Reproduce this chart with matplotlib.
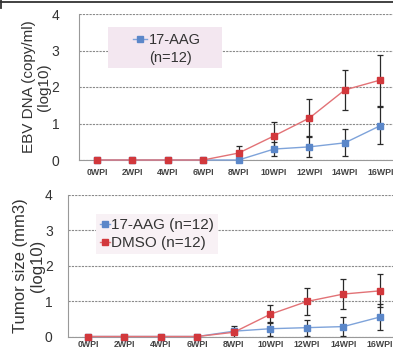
import numpy as np
import matplotlib
matplotlib.use("Agg")
import matplotlib.pyplot as plt
from matplotlib.lines import Line2D
from matplotlib.patches import Rectangle

plt.rcParams['font.family'] = ['Liberation Sans', 'DejaVu Sans']

# ---- data ----
weeks = ['0WPI', '2WPI', '4WPI', '6WPI', '8WPI', '10WPI', '12WPI', '14WPI', '16WPI']

ebv_aag = [0, 0, 0, 0, 0.0, 0.30, 0.36, 0.47, 0.94]
ebv_aag_err = [0, 0, 0, 0, 0.0, 0.20, 0.29, 0.37, 0.50]
ebv_dmso = [0, 0, 0, 0, 0.19, 0.66, 1.15, 1.92, 2.19]
ebv_dmso_err = [0, 0, 0, 0, 0.20, 0.37, 0.52, 0.54, 0.70]

tumor_aag = [0, 0, 0, 0, 0.15, 0.22, 0.25, 0.28, 0.55]
tumor_aag_err = [0, 0, 0, 0, 0.05, 0.20, 0.23, 0.27, 0.38]
tumor_dmso = [0, 0, 0, 0, 0.12, 0.63, 0.99, 1.20, 1.29]
tumor_dmso_err = [0, 0, 0, 0, 0.17, 0.25, 0.39, 0.43, 0.47]

yticks = [0, 1, 2, 3, 4]

# ---- style ----
RED = '#d2383c'
RED_L = '#e27276'
BLUE = '#5b87c9'
BLUE_L = '#7ea3da'
ERR = '#2a2a2a'
GRID = '#8a8a8a'
TXT = '#333333'

W, H = 393, 355
fig = plt.figure(figsize=(W / 100, H / 100), dpi=100)


def fx(px):
    return px / W


def fy(py):
    return 1 - py / H


def panel(rect, xlim, aag, aag_err, dmso, dmso_err, ylab, ylab_x, labsize, tickpad, xpad):
    ax = fig.add_axes(rect)
    x = np.arange(len(weeks))
    ax.set_xlim(*xlim)
    ax.set_ylim(0, 4)
    ax.set_yticks(yticks)
    ax.set_xticks(x)
    ax.set_xticklabels(weeks, family=['Liberation Sans Narrow', 'Liberation Sans'],
                       fontweight='bold', fontsize=6.3, color='#444444')
    ax.tick_params(axis='both', length=0)
    ax.tick_params(axis='x', pad=xpad)
    ax.tick_params(axis='y', pad=tickpad, labelsize=10, labelcolor=TXT)
    ax.grid(axis='y', color=GRID, lw=0.8, ls=(0, (2, 1)))
    ax.set_axisbelow(True)
    for s in ['top', 'right']:
        ax.spines[s].set_visible(False)
    ax.spines['left'].set_color('#999999')
    ax.spines['left'].set_linewidth(0.8)
    ax.spines['bottom'].set_color('#999999')
    ax.spines['bottom'].set_linewidth(0.8)
    ax.spines['bottom'].set_linestyle((0, (2, 1)))

    aag = np.array(aag); aag_err = np.array(aag_err)
    dmso = np.array(dmso); dmso_err = np.array(dmso_err)
    m = aag_err > 0
    ax.errorbar(x[m], aag[m], yerr=aag_err[m], fmt='none', ecolor=ERR,
                elinewidth=0.9, capsize=2, capthick=0.9, zorder=3)
    m = dmso_err > 0
    ax.errorbar(x[m], dmso[m], yerr=dmso_err[m], fmt='none', ecolor=ERR,
                elinewidth=0.9, capsize=2, capthick=0.9, zorder=3)
    ax.plot(x, aag, color=BLUE_L, lw=1.0, marker='s', ms=4, mfc=BLUE, mec=BLUE,
            zorder=4, clip_on=False)
    ax.plot(x, dmso, color=RED_L, lw=1.0, marker='s', ms=4, mfc=RED, mec=RED,
            zorder=5, clip_on=False)
    ax.set_ylabel(ylab, fontsize=labsize, color=TXT, linespacing=1.1)
    ax.yaxis.set_label_coords(ylab_x, 0.5)
    return ax


# top panel
ax1 = panel([fx(79), fy(160), fx(393 - 79), (160 - 14) / H], (-0.507, 8.36),
            ebv_aag, ebv_aag_err, ebv_dmso, ebv_dmso_err,
            'EBV DNA (copy/ml)\n(log10)', -0.088, 11, 14, 6)

# bottom panel
ax2 = panel([fx(68), fy(336.5), fx(393 - 68), (336.5 - 195) / H], (-0.545, 8.36),
            tumor_aag, tumor_aag_err, tumor_dmso, tumor_dmso_err,
            'Tumor size (mm3)\n(log10)', -0.072, 12, 11, 2.5)

# legend top (17-AAG only)
ax1.add_patch(Rectangle((fx(108), fy(68)), fx(114), 41 / H, transform=fig.transFigure,
                        facecolor='#f3e7f0', edgecolor='none', zorder=2.5))
hb = Line2D([], [], color=BLUE_L, lw=1.0, marker='s', ms=4, mfc=BLUE, mec=BLUE)
hn = Line2D([], [], color='none')
ax1.legend([hb, hn], ['17-AAG', '(n=12)'], loc='upper left',
           bbox_to_anchor=(fx(133), fy(33)), bbox_transform=fig.transFigure,
           frameon=False, fontsize=10.5, handlelength=0.95, handletextpad=0.15,
           labelspacing=0.25, borderpad=0, borderaxespad=0, labelcolor=TXT)

# legend bottom
ax2.add_patch(Rectangle((fx(96), fy(254)), fx(122), 40 / H, transform=fig.transFigure,
                        facecolor='#f8f1f5', edgecolor='none', zorder=2.5))
hr = Line2D([], [], color=RED_L, lw=1.0, marker='s', ms=4, mfc=RED, mec=RED)
ax2.legend([hb, hr], ['17-AAG (n=12)', 'DMSO (n=12)'], loc='upper left',
           bbox_to_anchor=(fx(100), fy(218.5)), bbox_transform=fig.transFigure,
           frameon=False, fontsize=11, handlelength=0.65, handletextpad=0.1,
           labelspacing=0.25, borderpad=0, borderaxespad=0, labelcolor=TXT)

# frame line at top
fig.add_artist(Line2D([0, 1], [fy(2), fy(2)], transform=fig.transFigure,
                      color='#333333', lw=1.3))
fig.add_artist(Line2D([fx(1), fx(1)], [fy(0), fy(8)], transform=fig.transFigure,
                      color='#333333', lw=1.3))

fig.savefig('out.png', dpi=100)
